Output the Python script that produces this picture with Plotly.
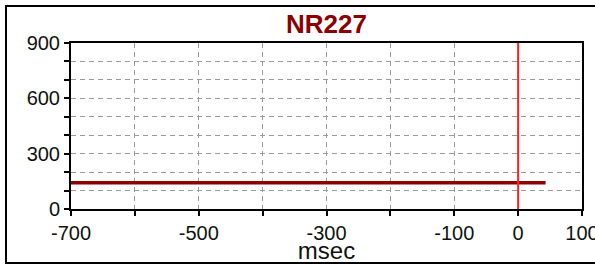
import plotly.graph_objects as go

# data
line_x = [-700, 43]
line_y = [142, 142]
marker_x = [0, 0]
marker_y = [0, 900]
x_tickvals = [-700, -600, -500, -400, -300, -200, -100, 0, 100]
x_ticktext = ["-700", "", "-500", "", "-300", "", "-100", "0", "100"]
y_tickvals = [0, 100, 200, 300, 400, 500, 600, 700, 800, 900]
y_ticktext = ["0", "", "", "300", "", "", "600", "", "", "900"]

fig = go.Figure()
fig.add_trace(go.Scatter(x=line_x, y=line_y, mode="lines",
                         line=dict(color="#8b0000", width=3.5), showlegend=False))
fig.add_trace(go.Scatter(x=marker_x, y=marker_y, mode="lines",
                         line=dict(color="#ff2020", width=2), showlegend=False))

L, R, T, B = 71, 13, 43, 55
W, H = 595, 264
pw, ph = W - L - R, H - T - B

fig.update_layout(
    width=W, height=H, autosize=False,
    margin=dict(l=L, r=R, t=T, b=B, pad=0),
    paper_bgcolor="white", plot_bgcolor="white",
    font=dict(family="Arial, Liberation Sans, sans-serif", size=20, color="#111111"),
    title=dict(text="<b>NR227</b>", x=(L + pw / 2) / W, xanchor="center",
               y=1 - 24 / H, yanchor="middle",
               font=dict(size=26, color="#8b0000", family="Arial, Liberation Sans, sans-serif")),
    xaxis=dict(range=[-700, 100], tickvals=x_tickvals, ticktext=x_ticktext,
               showgrid=True, gridcolor="#9a9a9a", griddash="5px,4px", gridwidth=1,
               showline=True, linecolor="black", linewidth=2, mirror=True,
               ticks="outside", ticklen=5, tickwidth=2, tickcolor="black",
               zeroline=False, title=dict(text="msec", standoff=5),
               ticklabeloverflow="allow", automargin=False,
               tickfont=dict(size=20)),
    yaxis=dict(range=[0, 900], tickvals=y_tickvals, ticktext=y_ticktext,
               showgrid=True, gridcolor="#9a9a9a", griddash="5px,4px", gridwidth=1,
               showline=True, linecolor="black", linewidth=2, mirror=True,
               ticks="outside", ticklen=5, tickwidth=2, tickcolor="black",
               zeroline=False, automargin=False, tickfont=dict(size=20)),
    shapes=[dict(type="rect", xref="paper", yref="paper",
                 x0=(6 - L) / pw, x1=(597 - L) / pw,
                 y0=-(263 - T - ph) / ph, y1=1 + (T - 6) / ph,
                 line=dict(color="black", width=2), layer="below")],
)

fig.write_html("out.html",
               config={"responsive": False, "displayModeBar": False},
               post_script="document.body.style.margin='0';document.body.style.overflow='hidden';")
